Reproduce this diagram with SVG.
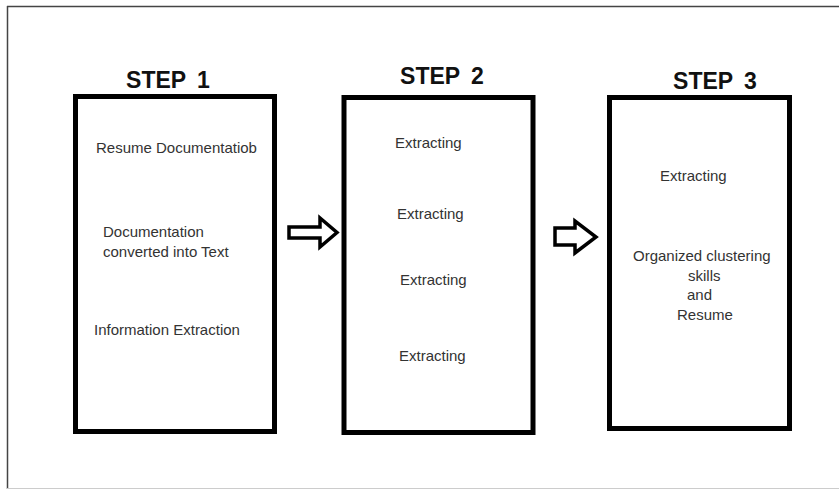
<svg xmlns="http://www.w3.org/2000/svg" width="839" height="490" viewBox="0 0 839 490">
<style>
.box{fill:#fff;stroke:#000;stroke-width:5}
.title{font-family:"Liberation Sans",Arial,sans-serif;font-weight:bold;font-size:23px;fill:#111;text-anchor:middle;word-spacing:5px}
.t{font-family:"Liberation Sans",Arial,sans-serif;font-size:15px;fill:#333}
.arrow{fill:#fff;stroke:#000;stroke-width:3.5;stroke-linejoin:miter}
</style>
<rect x="0" y="0" width="839" height="490" fill="#fff"/>
<g id="frame">
<line x1="7" y1="6.5" x2="839" y2="6.5" stroke="#444" stroke-width="1.5"/>
<line x1="7.5" y1="6" x2="7.5" y2="489" stroke="#444" stroke-width="1.5"/>
<line x1="7" y1="488.5" x2="839" y2="488.5" stroke="#ccc" stroke-width="1"/>
</g>
<g id="step1">
<text class="title" x="168" y="88">STEP 1</text>
<rect class="box" x="75.5" y="96.5" width="199" height="335"/>
<text class="t" x="96" y="153">Resume Documentatiob</text>
<text class="t" x="103" y="237">Documentation</text>
<text class="t" x="103" y="257">converted into Text</text>
<text class="t" x="94" y="335">Information Extraction</text>
</g>
<g id="step2">
<text class="title" x="442" y="84">STEP 2</text>
<rect class="box" x="344" y="97.5" width="189" height="335"/>
<text class="t" x="395" y="148">Extracting</text>
<text class="t" x="397" y="219">Extracting</text>
<text class="t" x="400" y="285">Extracting</text>
<text class="t" x="399" y="361">Extracting</text>
</g>
<g id="step3">
<text class="title" x="715" y="89">STEP 3</text>
<rect class="box" x="609.5" y="97.5" width="180" height="331"/>
<text class="t" x="660" y="181">Extracting</text>
<text class="t" x="633" y="261">Organized clustering</text>
<text class="t" x="688" y="281">skills</text>
<text class="t" x="687" y="300">and</text>
<text class="t" x="677" y="320">Resume</text>
</g>
<g id="connectors">
<path class="arrow" d="M289 227 H320 V218 L337 232.5 L320 247 V238 H289 Z"/>
<path class="arrow" d="M555 228 H575 V221 L596 237 L575 253 V245 H555 Z"/>
</g>
</svg>
